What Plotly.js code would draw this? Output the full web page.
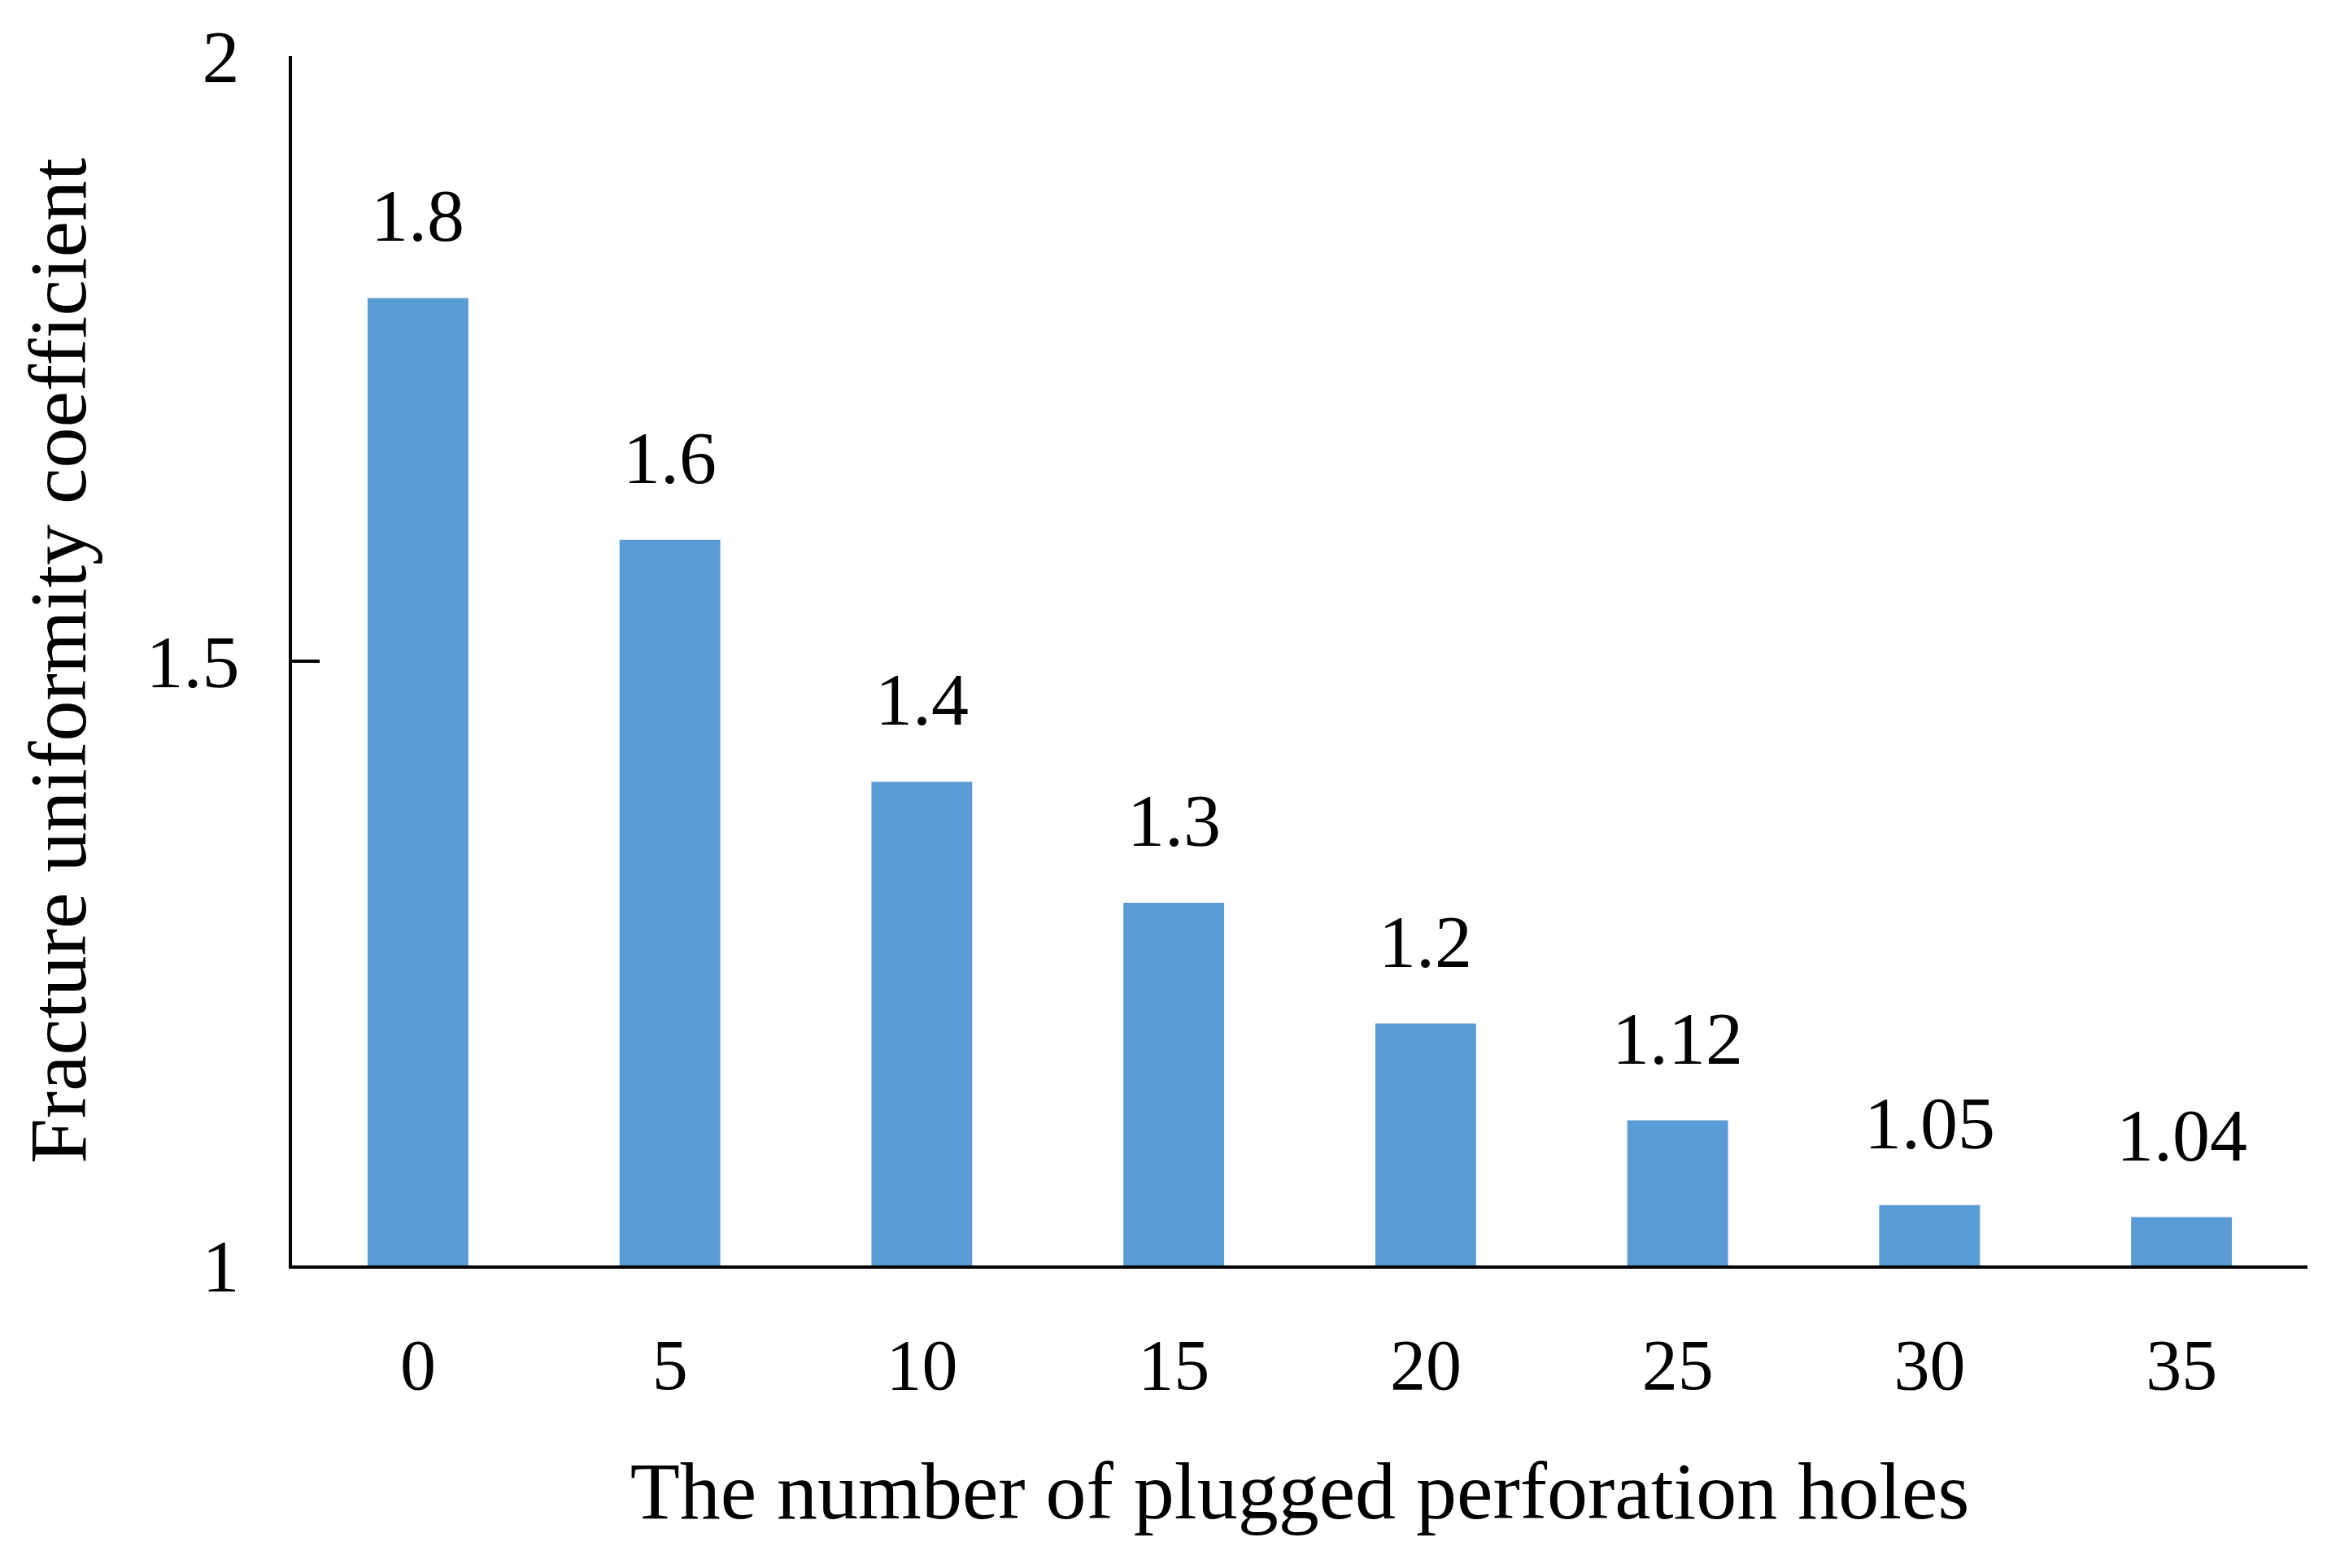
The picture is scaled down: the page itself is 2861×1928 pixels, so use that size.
<!DOCTYPE html>
<html>
<head>
<meta charset="utf-8">
<script src="https://cdn.plot.ly/plotly-3.0.1.min.js"></script>
<style>html,body{margin:0;padding:0;background:#fff;}#chart{width:2861px;height:1928px;}</style>
</head>
<body>
<div id="chart"></div>
<script>
const categories = ['0', '5', '10', '15', '20', '25', '30', '35'];
const coefficients = [1.8, 1.6, 1.4, 1.3, 1.2, 1.12, 1.05, 1.04];
const valueLabels = ['1.8', '1.6', '1.4', '1.3', '1.2', '1.12', '1.05', '1.04'];
const yTickVals = [1, 1.5, 2];
const yTickText = ['1', '1.5', '2'];

const serif = 'Liberation Serif, Times New Roman, serif';

const trace = {
  type: 'bar',
  x: categories,
  y: coefficients,
  base: 0,
  width: 0.4,
  marker: {color: '#5B9BD5', line: {width: 0}},
  hoverinfo: 'skip'
};

const annotations = categories.map((c, i) => ({
  x: i, y: coefficients[i], xref: 'x', yref: 'y',
  text: valueLabels[i], showarrow: false,
  yanchor: 'bottom', yshift: 48,
  font: {family: serif, size: 92, color: '#000'}
}));

const layout = {
  width: 2861, height: 1928,
  margin: {l: 359, r: 24, t: 69, b: 372},
  paper_bgcolor: '#fff', plot_bgcolor: '#fff',
  showlegend: false,
  font: {family: serif, size: 88, color: '#000'},
  xaxis: {
    type: 'category',
    range: [-0.5, 7.5],
    showline: true, linecolor: '#000', linewidth: 4,
    ticks: '', showgrid: false, zeroline: false,
    ticklabelstandoff: 42,
    tickfont: {family: serif, size: 88, color: '#000'},
    title: {text: 'The number of plugged perforation holes', font: {family: serif, size: 100, color: '#000'}, standoff: 72},
    automargin: false
  },
  yaxis: {
    range: [1, 2],
    tickvals: yTickVals, ticktext: yTickText,
    showline: true, linecolor: '#000', linewidth: 4,
    ticks: 'inside', ticklen: 34, tickwidth: 4, tickcolor: '#000',
    showgrid: false, zeroline: false,
    ticklabelstandoff: 42,
    tickfont: {family: serif, size: 92, color: '#000'},
    title: {text: 'Fracture uniformity coefficient', font: {family: serif, size: 100, color: '#000'}, standoff: 42},
    automargin: false
  },
  annotations: annotations
};

Plotly.newPlot('chart', [trace], layout, {displayModeBar: false, staticPlot: true});
</script>
</body>
</html>
